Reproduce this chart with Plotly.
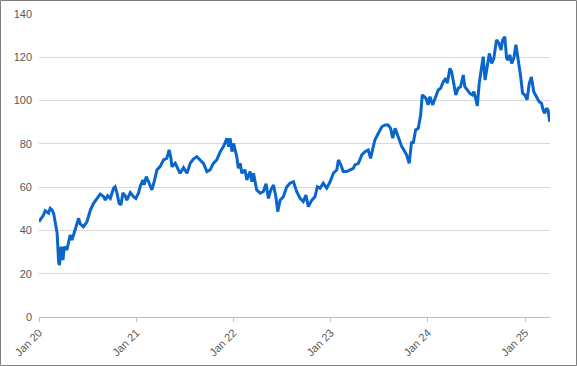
import plotly.graph_objects as go

dates = [
    "2020-01-01", "2020-01-18", "2020-01-24", "2020-02-06", "2020-02-12", "2020-02-19", "2020-02-25",
    "2020-03-02", "2020-03-09", "2020-03-15", "2020-03-18", "2020-03-24", "2020-03-31", "2020-04-05",
    "2020-04-15", "2020-04-27", "2020-05-04", "2020-05-12", "2020-05-23", "2020-05-29", "2020-06-04",
    "2020-06-16", "2020-06-29", "2020-07-12", "2020-07-24", "2020-08-06", "2020-08-18", "2020-08-31",
    "2020-09-06", "2020-09-15", "2020-09-25", "2020-10-07", "2020-10-13", "2020-10-20", "2020-10-28",
    "2020-11-04", "2020-11-11", "2020-11-20", "2020-11-26", "2020-12-09", "2020-12-21", "2020-12-30",
    "2021-01-09", "2021-01-15", "2021-01-25", "2021-01-30", "2021-02-07", "2021-02-15", "2021-02-28",
    "2021-03-09", "2021-03-19", "2021-03-31", "2021-04-13", "2021-04-25", "2021-05-04", "2021-05-11",
    "2021-05-14", "2021-05-27", "2021-06-04", "2021-06-14", "2021-06-27", "2021-07-10", "2021-07-22",
    "2021-08-03", "2021-08-16", "2021-08-29", "2021-09-10", "2021-09-23", "2021-10-05", "2021-10-17",
    "2021-10-30", "2021-11-12", "2021-11-24", "2021-12-07", "2021-12-13", "2021-12-19", "2021-12-26",
    "2022-01-01", "2022-01-13", "2022-01-19", "2022-01-26", "2022-02-01", "2022-02-13", "2022-02-20",
    "2022-03-04", "2022-03-11", "2022-03-17", "2022-03-29", "2022-04-11", "2022-04-23", "2022-05-03",
    "2022-05-12", "2022-05-21", "2022-05-31", "2022-06-09", "2022-06-16", "2022-06-25", "2022-07-07",
    "2022-07-20", "2022-08-01", "2022-08-14", "2022-08-26", "2022-09-08", "2022-09-20", "2022-09-30",
    "2022-10-09", "2022-10-22", "2022-11-03", "2022-11-12", "2022-11-22", "2022-12-04", "2022-12-17",
    "2022-12-30", "2023-01-11", "2023-01-24", "2023-01-30", "2023-02-08", "2023-02-17", "2023-03-02",
    "2023-03-15", "2023-03-27", "2023-04-02", "2023-04-15", "2023-04-28", "2023-05-10", "2023-05-22",
    "2023-05-31", "2023-06-10", "2023-06-16", "2023-06-29", "2023-07-12", "2023-07-24", "2023-08-05",
    "2023-08-14", "2023-08-22", "2023-08-31", "2023-09-12", "2023-09-25", "2023-10-03", "2023-10-13",
    "2023-10-23", "2023-11-01", "2023-11-07", "2023-11-16", "2023-11-26", "2023-12-05", "2023-12-11",
    "2023-12-17", "2023-12-25", "2024-01-02", "2024-01-09", "2024-01-19", "2024-01-27", "2024-02-09",
    "2024-02-18", "2024-02-28", "2024-03-09", "2024-03-14", "2024-03-24", "2024-03-30", "2024-04-05",
    "2024-04-15", "2024-04-24", "2024-05-03", "2024-05-13", "2024-05-19", "2024-05-28", "2024-06-07",
    "2024-06-16", "2024-06-22", "2024-06-30", "2024-07-05", "2024-07-12", "2024-07-21", "2024-07-27",
    "2024-08-03", "2024-08-11", "2024-08-19", "2024-08-28", "2024-09-05", "2024-09-15", "2024-09-24",
    "2024-10-02", "2024-10-08", "2024-10-16", "2024-10-23", "2024-10-29", "2024-11-04", "2024-11-11",
    "2024-11-19", "2024-11-27", "2024-12-05", "2024-12-14", "2024-12-22", "2024-12-30", "2025-01-08",
    "2025-01-16", "2025-01-24", "2025-02-02", "2025-02-12", "2025-02-22", "2025-03-03", "2025-03-09",
    "2025-03-15", "2025-03-22", "2025-03-28", "2025-04-03",
]

values = [
    44.0, 47.1, 49.1, 48.0, 50.2, 49.5, 47.9,
    44.0, 38.8, 25.0, 24.0, 32.5, 26.3, 32.5,
    31.0, 37.9, 35.6, 38.8, 44.0, 45.6, 43.0,
    41.7, 44.0, 49.4, 52.5, 54.8, 56.8, 55.6,
    54.0, 56.0, 54.8, 59.5, 60.2, 57.3, 52.5,
    51.8, 57.3, 56.0, 54.0, 57.5, 55.6, 54.8,
    57.3, 60.2, 63.3, 61.0, 64.8, 62.7, 58.7,
    62.7, 67.9, 69.5, 72.6, 73.3, 77.2, 73.3,
    69.5, 71.0, 68.7, 66.4, 69.0, 66.4, 71.0,
    73.0, 74.1, 72.6, 71.0, 67.2, 68.0, 71.0,
    72.6, 76.4, 78.7, 82.6, 78.7, 82.6, 76.4,
    80.2, 74.1, 68.7, 71.0, 66.4, 68.0, 63.3,
    67.2, 62.5, 66.4, 58.7, 57.2, 58.0, 61.6,
    54.8, 58.7, 61.0, 55.6, 48.7, 54.0, 55.6,
    60.2, 61.8, 62.5, 58.0, 54.8, 53.3, 56.3,
    51.0, 54.0, 55.6, 60.2, 59.5, 61.8, 59.5,
    62.5, 66.4, 68.0, 72.6, 70.3, 67.2, 67.2,
    68.0, 68.7, 70.3, 71.0, 74.9, 76.4, 77.2,
    73.3, 78.7, 81.8, 84.9, 87.9, 88.7, 88.7,
    87.2, 82.6, 87.2, 83.3, 78.7, 77.2, 74.9,
    71.0, 81.0, 80.2, 86.4, 87.2, 93.3, 102.6,
    101.8, 101.0, 98.0, 101.8, 98.0, 101.0, 104.9,
    105.7, 108.7, 110.3, 108.0, 114.9, 113.4, 109.5,
    102.6, 105.7, 106.4, 111.8, 106.4, 104.9, 103.3,
    102.6, 104.1, 100.3, 97.5, 107.9, 115.7, 120.3,
    109.5, 114.9, 121.8, 117.2, 119.5, 128.0, 126.5,
    123.4, 128.0, 129.5, 119.5, 118.7, 121.1, 117.2,
    119.5, 125.8, 119.5, 111.8, 103.4, 102.6, 100.3,
    107.9, 110.9, 104.1, 101.8, 99.5, 98.8, 95.7,
    94.1, 96.5, 95.5, 90.2,
]

y_ticks = [0, 20, 40, 60, 80, 100, 120, 140]
x_ticks = ["2020-01-01", "2021-01-01", "2022-01-01", "2023-01-01", "2024-01-01", "2025-01-01"]
x_tick_labels = ["Jan 20", "Jan 21", "Jan 22", "Jan 23", "Jan 24", "Jan 25"]

W, H = 577, 366
ML, MR, MT, MB = 39, 27, 14, 49

fig = go.Figure()
fig.add_trace(go.Scatter(
    x=dates, y=values, mode="lines",
    line=dict(color="#0A66CC", width=3),
    hoverinfo="x+y", showlegend=False,
))

font = dict(family="Liberation Sans, Arial, sans-serif", size=11, color="#595959")

fig.update_layout(
    width=W, height=H,
    margin=dict(l=ML, r=MR, t=MT, b=MB, pad=0, autoexpand=False),
    paper_bgcolor="white", plot_bgcolor="white",
    font=font,
    xaxis=dict(
        type="date",
        range=["2020-01-01", "2025-04-04"],
        tickvals=x_ticks, ticktext=x_tick_labels,
        tickangle=-45,
        showgrid=False, zeroline=False,
        showline=True, linecolor="#BFBFBF", linewidth=1,
        ticks="outside", ticklen=4, tickcolor="#BFBFBF", tickwidth=1,
        tickfont=font, automargin=False,
    ),
    yaxis=dict(
        range=[0, 140],
        tickvals=y_ticks,
        showgrid=True, gridcolor="#D9D9D9", gridwidth=1,
        zeroline=False, showline=False,
        ticks="", tickfont=font,
        ticklabelstandoff=6, automargin=False,
    ),
)

pw = W - ML - MR
ph = H - MT - MB
fig.add_shape(
    type="rect", xref="paper", yref="paper",
    x0=(-ML + 0.5) / pw, x1=1 + (MR - 0.5) / pw,
    y0=(-MB + 0.5) / ph, y1=1 + (MT - 0.5) / ph,
    line=dict(color="#7F7F7F", width=1), fillcolor="rgba(0,0,0,0)",
    layer="above",
)

fig.write_html(
    "out.html",
    config={"displayModeBar": False},
    post_script="document.body.style.margin='0';document.body.style.overflow='hidden';",
)
